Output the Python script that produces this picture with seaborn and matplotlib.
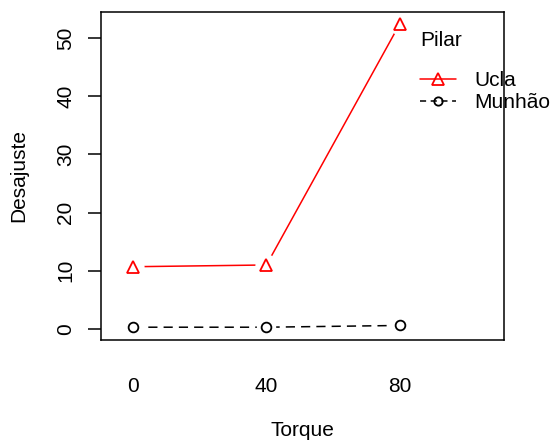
import matplotlib
matplotlib.use("Agg")
import matplotlib.pyplot as plt
import seaborn as sns
import pandas as pd
from matplotlib.lines import Line2D

torque = ["0", "40", "80"]
ucla = [10.7, 11.0, 52.5]
munhao = [0.3, 0.3, 0.6]
series_names = ["Ucla", "Munhão"]

sns.set_theme(style="white")
plt.rcParams['font.family'] = ['Liberation Sans', 'DejaVu Sans']
plt.rcParams['text.color'] = 'black'

df = pd.DataFrame({
    "Torque": torque * 2,
    "Desajuste": ucla + munhao,
    "Pilar": [series_names[0]] * 3 + [series_names[1]] * 3,
})

W, H = 554, 445
fig = plt.figure(figsize=(W / 100, H / 100), dpi=100)
ax = fig.add_axes([101 / W, 1 - 340 / H, (504 - 101) / W, (340 - 12) / H])

styles = {
    "Ucla": dict(color="red", ls="-", marker="^", ms=9),
    "Munhão": dict(color="black", ls=(0, (6, 4)), marker="o", ms=7),
}

for name in series_names:
    sub = df[df["Pilar"] == name]
    st = styles[name]
    sns.lineplot(data=sub, x="Torque", y="Desajuste", color=st["color"],
                 linestyle=st["ls"], linewidth=1.1, ax=ax, sort=False)
    # gap around points (R type="b")
    ax.plot(sub["Torque"], sub["Desajuste"], ls="none", marker="o",
            ms=st["ms"] + 7, mfc="white", mec="none", zorder=3)
    ax.plot(sub["Torque"], sub["Desajuste"], ls="none", marker=st["marker"],
            ms=st["ms"], mfc="none", mec=st["color"], mew=1.3, zorder=4)

ax.set_xlim(-0.24, 2.78)
ax.set_ylim(-1.9, 54.5)
ax.set_yticks([0, 10, 20, 30, 40, 50])
for s in ax.spines.values():
    s.set_visible(True)
    s.set_color("black")
    s.set_linewidth(1.1)

ax.tick_params(axis="y", left=True, length=9.4, width=1.1, color="black",
               pad=9, labelsize=15, labelcolor="black")
ax.tick_params(axis="x", bottom=False, length=0, pad=27, labelsize=15,
               labelcolor="black")
for lab in ax.get_yticklabels():
    lab.set_rotation(90)
    lab.set_va("center")

ax.set_xlabel("Torque", fontsize=15, color="black")
ax.set_ylabel("Desajuste", fontsize=15, color="black")
ax.xaxis.set_label_coords(0.5, -(430 - 340) / (340 - 12))
ax.xaxis.label.set_va("center")
ax.yaxis.set_label_coords(-(101 - 19) / (504 - 101), 0.5)
ax.yaxis.label.set_va("center")

handles = [
    Line2D([], [], color="red", ls="-", lw=1.1, marker="^", ms=9, mfc="none", mew=1.3),
    Line2D([], [], color="black", ls=(0, (4, 3)), lw=1.1, marker="o", ms=6, mfc="none", mew=1.3),
]
leg = ax.legend(handles, series_names, title="Pilar", frameon=False,
                loc="upper left", bbox_to_anchor=(420 / W, 1 - 31 / H),
                bbox_transform=fig.transFigure, fontsize=15, title_fontsize=15,
                handlelength=1.75, handletextpad=0.85, labelspacing=0.15,
                alignment="left", borderaxespad=0, borderpad=0,
                labelcolor="black")
leg.get_title().set_color("black")
leg._legend_box.sep = 15

fig.savefig("out.png", dpi=100)
